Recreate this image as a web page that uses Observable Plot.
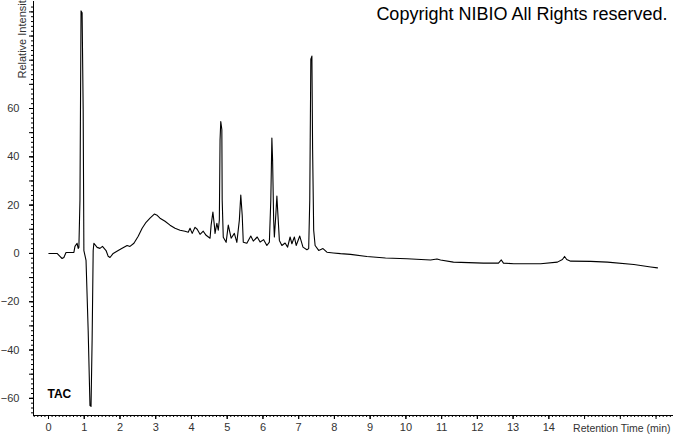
<!DOCTYPE html>
<html>
<head>
<meta charset="utf-8">
<script src="https://cdn.jsdelivr.net/npm/d3@7"></script>
<script src="https://cdn.jsdelivr.net/npm/@observablehq/plot@0.6"></script>
<style>
  html, body { margin: 0; padding: 0; background: #fff; }
  #chart svg { display: block; }
</style>
</head>
<body>
<div id="chart"></div>
<script>
// Retention time (min)
const time = [
  0.01, 0.24, 0.32, 0.38, 0.43, 0.49, 0.71, 0.74, 0.80, 0.83, 0.85, 0.88, 0.91, 0.94, 0.97, 0.99,
  1.05, 1.11, 1.16, 1.19, 1.22, 1.25, 1.27, 1.36, 1.44, 1.51, 1.61, 1.67, 1.72, 1.81, 1.95,
  2.06, 2.20, 2.28, 2.39, 2.51, 2.62, 2.73, 2.84, 2.96, 3.04, 3.12, 3.26, 3.40, 3.54, 3.68,
  3.82, 3.91, 3.96, 4.02, 4.10, 4.16, 4.24, 4.33, 4.41, 4.52, 4.55, 4.60, 4.64, 4.66, 4.71,
  4.75, 4.78, 4.80, 4.82, 4.85, 4.86, 4.89, 4.97, 5.03, 5.11, 5.20, 5.27, 5.34, 5.38, 5.42,
  5.45, 5.55, 5.66, 5.73, 5.84, 5.92, 6.02, 6.11, 6.18, 6.22, 6.25, 6.27, 6.30, 6.32, 6.36,
  6.39, 6.42, 6.46, 6.53, 6.62, 6.69, 6.76, 6.81, 6.88, 6.93, 7.03, 7.12, 7.23, 7.28, 7.31,
  7.34, 7.37, 7.39, 7.42, 7.46, 7.56, 7.68, 7.79, 7.97, 8.17, 8.45, 8.91, 9.43, 10.03, 10.69,
  10.87, 10.97, 11.33, 12.17, 12.59, 12.67, 12.73, 13.02, 13.77, 14.24, 14.38, 14.44, 14.50,
  14.61, 15.17, 15.64, 16.38, 16.85, 17.04
];
// Relative intensity
const intensity = [
  0, 0, -1.2, -2.1, -1.7, 0.4, 0.4, 2.9, 4.2, 2.1, 2.5, 22, 100.4, 99.6, 59.6, 1.2,
  -2.9, -32, -63, -63.3, -36, 1.2, 4.2, 2.5, 2.1, 2.9, 1.2, -1.2, -1.7, 0, 1.2,
  2.1, 3.3, 2.9, 4.2, 7.1, 10.4, 12.9, 14.6, 16.3, 15.8, 14.6, 13.3, 11.7, 10.4, 9.6,
  9.2, 8.8, 10.4, 8.3, 10.8, 10, 7.9, 9.2, 7.5, 6.3, 11.7, 17.1, 11.7, 8.3, 12.5,
  9.6, 13.8, 47, 54.6, 51.3, 22, 6.7, 4.6, 11.7, 6.3, 8.3, 4.6, 13.8, 24.2, 15.8,
  4.6, 4.2, 7.2, 5.1, 6.8, 4.7, 5.7, 3.3, 4.7, 22, 47.8, 38.8, 13.8, 6.8, 15.8,
  23.8, 15.8, 5.4, 3.3, 4.3, 2.6, 6.8, 4, 6.8, 3.3, 7.2, 2.6, 1.5, 2, 22,
  80.4, 81.7, 42.9, 9.6, 3.3, 1.25, 2, 0.5, 0.2, -0.1, -0.4, -1.25, -1.9, -2.2, -2.7,
  -2.3, -2.7, -3.6, -4, -4, -2.7, -4, -4.3, -4.3, -3.6, -2.5, -1.25, -2.5,
  -3.2, -3.3, -3.6, -4.6, -5.6, -6
];
// Tick labels
const xTickLabels = [0, 1, 2, 3, 4, 5, 6, 7, 8, 9, 10, 11, 12, 13, 14];
const xMajorTicks = [0, 1, 2, 3, 4, 5, 6, 7, 8, 9, 10, 11, 12, 13, 14, 15, 16, 17];
const xMinorTicks = d3.range(-4, 175).map(i => i / 10);
const yTickLabels = [-60, -40, -20, 0, 20, 40, 60];
const yMajorTicks = [-60, -50, -40, -30, -20, -10, 0, 10, 20, 30, 40, 50, 60, 70, 80, 90, 100];
const yMinorTicks = d3.range(-66, 104, 2);

const trace = time.map((t, i) => ({t, v: intensity[i]}));

const FONT = "'Liberation Sans', Arial, sans-serif";
const chart = Plot.plot({
  width: 674,
  height: 434,
  marginLeft: 33,
  marginRight: 2,
  marginTop: 1,
  marginBottom: 19,
  style: {fontFamily: FONT, fontSize: "11px", background: "#fff", color: "#000"},
  x: {domain: [-0.42, 17.46], label: null},
  y: {domain: [-67.1, 104.3], label: null},
  marks: [
    Plot.frame({anchor: "left", stroke: "#000"}),
    Plot.frame({anchor: "bottom", stroke: "#000"}),
    Plot.axisY(yMinorTicks, {tickSize: 2, tickFormat: () => "", label: null, stroke: "#000"}),
    Plot.axisY(yMajorTicks, {tickSize: 4, tickFormat: () => "", label: null, stroke: "#000"}),
    Plot.axisY(yTickLabels, {tickSize: 4, tickPadding: 10, label: null, fill: "#333", stroke: "#000"}),
    Plot.axisX(xMinorTicks, {tickSize: 2, tickFormat: () => "", label: null, stroke: "#000"}),
    Plot.axisX(xMajorTicks, {tickSize: 4, tickFormat: () => "", label: null, stroke: "#000"}),
    Plot.axisX(xTickLabels, {tickSize: 4, tickPadding: 4, label: null, fill: "#333", stroke: "#000"}),
    Plot.line(trace, {x: "t", y: "v", stroke: "#000", strokeWidth: 1.1}),
    Plot.text(["Relative Intensity"], {frameAnchor: "top-left", rotate: -90, textAnchor: "start", dx: -15, dy: 77, fill: "#333", fontSize: 11}),
    Plot.text(["Retention Time (min)"], {frameAnchor: "bottom-right", textAnchor: "end", lineAnchor: "middle", dx: -2, dy: 13, fill: "#333", fontSize: 10.5}),
    Plot.text(["TAC"], {frameAnchor: "bottom-left", textAnchor: "start", lineAnchor: "middle", dx: 14, dy: -21, fill: "#000", fontSize: 12, fontWeight: "bold"}),
    Plot.text(["Copyright NIBIO All Rights reserved."], {frameAnchor: "top-right", textAnchor: "end", lineAnchor: "middle", dx: -5, dy: 13, fill: "#000", fontSize: 18})
  ]
});
document.getElementById("chart").appendChild(chart);
</script>
</body>
</html>
